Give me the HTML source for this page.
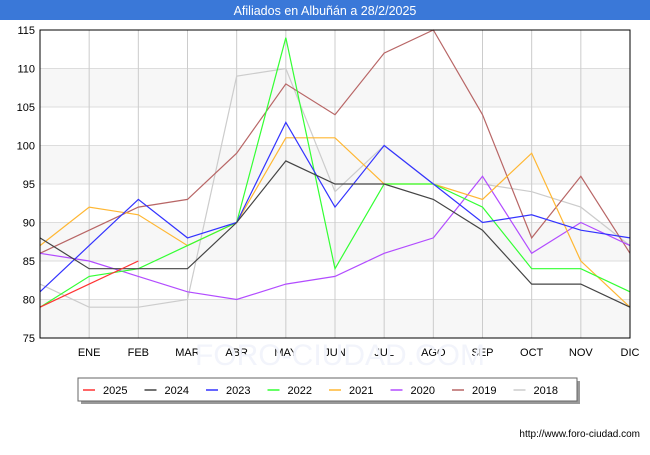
<!DOCTYPE html>
<html><head><meta charset="utf-8"><style>
body{margin:0;width:650px;height:450px;background:#fff;font-family:"Liberation Sans",sans-serif;overflow:hidden}
</style></head><body>
<svg width="650" height="450" id="svg" font-family="Liberation Sans, sans-serif">
<rect x="0" y="0" width="650" height="20" fill="#3a78d8"/>
<text x="325" y="15" text-anchor="middle" fill="#fff" font-size="12.5">Afiliados en Albuñán a 28/2/2025</text>
<g id="grid"></g>
<text x="340" y="365" text-anchor="middle" font-size="30" fill="#f2f4fb">FORO-CIUDAD.COM</text>
<g id="series"></g>
<rect x="40" y="30" width="590" height="308" fill="none" stroke="#000"/>
<g id="legend"></g>
<text x="640" y="437" text-anchor="end" font-size="10">http://www.foro-ciudad.com</text>
</svg>
<script>
const months=["","ENE","FEB","MAR","ABR","MAY","JUN","JUL","AGO","SEP","OCT","NOV","DIC"];
const yTicks=[75,80,85,90,95,100,105,110,115];
const years=["2025","2024","2023","2022","2021","2020","2019","2018"];
const colors=["#ff3333","#444444","#3333ff","#33ff33","#ffb733","#b24cff","#b86666","#cccccc"];
const s2025=[79,82,85];
const s2024=[88,84,84,84,90,98,95,95,93,89,82,82,79];
const s2023=[81,87,93,88,90,103,92,100,95,90,91,89,88];
const s2022=[79,83,84,87,90,114,84,95,95,92,84,84,81];
const s2021=[87,92,91,87,90,101,101,95,95,93,99,85,79];
const s2020=[86,85,83,81,80,82,83,86,88,96,86,90,87];
const s2019=[86,89,92,93,99,108,104,112,115,104,88,96,86];
const s2018=[82,79,79,80,109,110,94,100,95,95,94,92,87];
const series=[s2025,s2024,s2023,s2022,s2021,s2020,s2019,s2018];
const NS="http://www.w3.org/2000/svg";
const X=i=>40+i*(590/12), Y=v=>338-(v-75)*308/40;
const g=document.getElementById('grid');
function mk(t,a,p){const e=document.createElementNS(NS,t);for(const k in a)e.setAttribute(k,a[k]);p.appendChild(e);return e;}
for(let i=0;i<yTicks.length-1;i++){if(i%2==0){const r=mk('rect',{x:40,y:Y(yTicks[i+1]),width:590,height:Y(yTicks[i])-Y(yTicks[i+1]),fill:'#f7f7f7'},g);

}}
yTicks.forEach(v=>{const l=mk('line',{x1:40,x2:630,y1:Y(v),y2:Y(v),stroke:'#ddd'},g);


const t=mk('text',{x:35,y:Y(v)+4,'text-anchor':'end','font-size':11},g);t.textContent=v;

});
months.forEach((m,i)=>{if(!i)return;const l=mk('line',{x1:X(i),x2:X(i),y1:30,y2:338,stroke:'#ccc'},g);


const t=mk('text',{x:X(i),y:356,'text-anchor':'middle','font-size':11},g);t.textContent=m;

});
const sg=document.getElementById('series');
for(let k=series.length-1;k>=0;k--){const p=mk('polyline',{points:series[k].map((v,i)=>X(i)+','+Y(v)).join(' '),fill:'none',stroke:colors[k],'stroke-width':1.2},sg);

}
const lg=document.getElementById('legend');
const sh=mk('rect',{x:81,y:381,width:499,height:23,fill:'#999'},lg);


const bx=mk('rect',{x:78,y:378,width:499,height:23,fill:'#fff',stroke:'#666'},lg);


years.forEach((y,k)=>{const x0=83+k*61.5;
const l=mk('line',{x1:x0,x2:x0+12,y1:390,y2:390,stroke:colors[k],'stroke-width':1.5},lg);


const t=mk('text',{x:x0+20,y:394,'font-size':11},lg);t.textContent=y;

});
</script>
</body></html>
